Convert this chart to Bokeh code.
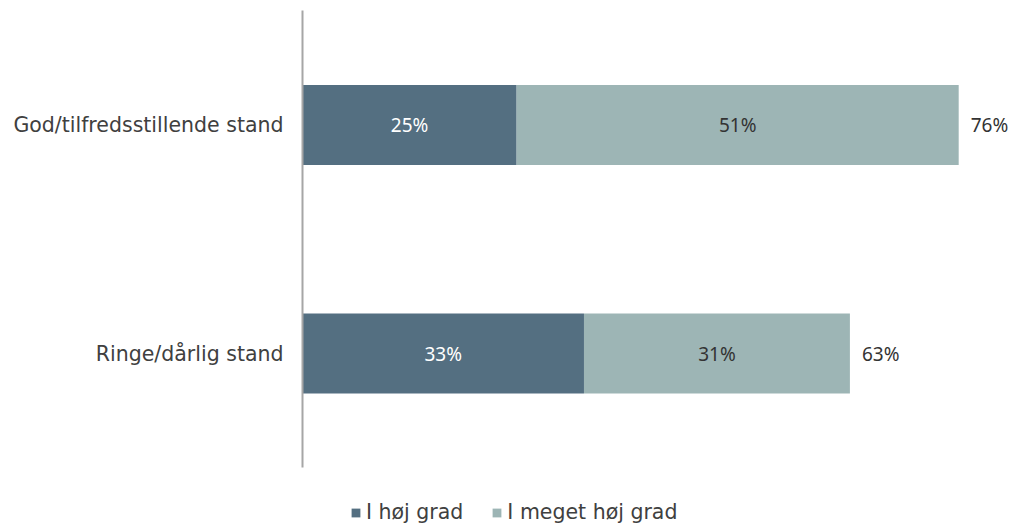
from bokeh.plotting import figure
from bokeh.models import ColumnDataSource, Legend, LegendItem, Range1d, FixedTicker
from bokeh.embed import file_html
from bokeh.resources import INLINE
from bokeh.core.properties import value

categories = ["God/tilfredsstillende stand", "Ringe/dårlig stand"]
hoej = [24.8, 32.6]
meget_hoej = [51.2, 30.8]
hoej_labels = ["25%", "33%"]
meget_labels = ["51%", "31%"]
total_labels = ["76%", "63%"]
series_names = ["I høj grad", "I meget høj grad"]
colors = ["#546F81", "#9DB5B5"]

FONT = "DejaVu Sans"
NUMFONT = "Noto Sans"

n = len(categories)
ypos = [n - i for i in range(n)]

src = ColumnDataSource(dict(
    y=ypos,
    hoej=hoej,
    meget=meget_hoej,
    mid1=[v / 2 for v in hoej],
    mid2=[a + b / 2 for a, b in zip(hoej, meget_hoej)],
    tot=[a + b for a, b in zip(hoej, meget_hoej)],
    l1=hoej_labels, l2=meget_labels, lt=total_labels,
))

p = figure(width=1010, height=524, y_range=Range1d(0.252, n + 0.501), x_range=Range1d(0, 82.0),
           output_backend="svg", toolbar_location=None,
           min_border_left=302, min_border_right=0, min_border_top=10, min_border_bottom=0)

r = p.hbar_stack(["hoej", "meget"], y="y", height=0.35, color=colors, source=src,
                 line_color=None)

p.text(x="mid1", y="y", text="l1", source=src, text_align="center", text_baseline="middle",
       text_color="white", text_font=value(NUMFONT), text_font_size="19px")
p.text(x="mid2", y="y", text="l2", source=src, text_align="center", text_baseline="middle",
       text_color="#333333", text_font=value(NUMFONT), text_font_size="19px")
p.text(x="tot", y="y", text="lt", source=src, text_align="left", text_baseline="middle",
       x_offset=12, text_color="#333333", text_font=value(NUMFONT), text_font_size="19px")

p.xaxis.visible = False
p.xgrid.visible = False
p.ygrid.visible = False
p.outline_line_color = None
p.yaxis.bounds = (0.5, n + 0.5)
p.yaxis.ticker = FixedTicker(ticks=ypos)
p.yaxis.major_label_overrides = {y: c for y, c in zip(ypos, categories)}
p.yaxis.axis_line_color = "#A6A6A6"
p.yaxis.axis_line_width = 2
p.yaxis.major_tick_line_color = None
p.yaxis.minor_tick_line_color = None
p.yaxis.major_label_text_font = FONT
p.yaxis.major_label_text_font_size = "20.5px"
p.yaxis.major_label_text_color = "#404040"
p.yaxis.major_label_standoff = 13

legend = Legend(items=[LegendItem(label=series_names[i], renderers=[r[i]]) for i in range(2)],
                orientation="horizontal", location=(48, 0),
                border_line_color=None, background_fill_alpha=0,
                label_text_font=FONT, label_text_font_size="20.5px", label_text_color="#404040",
                glyph_width=11, glyph_height=11, spacing=28, label_standoff=5,
                margin=0, padding=0)
p.add_layout(legend, "center")

open("out.html", "w").write(file_html(p, INLINE))
